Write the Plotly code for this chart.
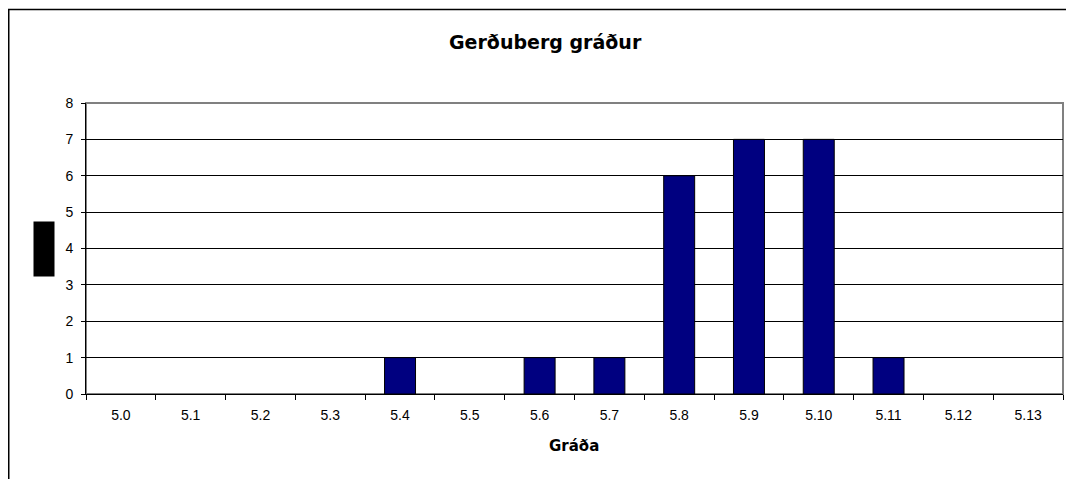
import plotly.graph_objects as go

categories = ["5.0", "5.1", "5.2", "5.3", "5.4", "5.5", "5.6", "5.7", "5.8", "5.9", "5.10", "5.11", "5.12", "5.13"]
counts = [0, 0, 0, 0, 1, 0, 1, 1, 6, 7, 7, 1, 0, 0]
y_ticks = [0, 1, 2, 3, 4, 5, 6, 7, 8]

# page places the figure at an 8px body offset; layout is in figure pixels
W, H = 1074, 479
L, R, T, B = 78, 19, 95, 93
pw, ph = W - L - R, H - T - B

def px_x(x):
    return (x - L) / pw

def px_y(y):
    return (H - B - y) / ph

fig = go.Figure(go.Bar(
    x=categories, y=counts,
    marker=dict(color="#000080",
                line=dict(color="#000000", width=[1 if v > 0 else 0 for v in counts])),
))

font = "Liberation Sans, Arial, sans-serif"
bold_font = "DejaVu Sans, Liberation Sans, sans-serif"

fig.update_layout(
    width=W, height=H,
    margin=dict(l=L, r=R, t=T, b=B, autoexpand=False),
    paper_bgcolor="white", plot_bgcolor="white",
    font=dict(family=font, size=14, color="black"),
    bargap=0.556,
    showlegend=False,
    xaxis=dict(
        type="category", showgrid=False, showline=True, linecolor="black", linewidth=1,
        ticks="outside", ticklen=5, tickcolor="black", tickson="boundaries",
        ticklabelstandoff=8,
        tickfont=dict(size=14, family=font),
    ),
    yaxis=dict(
        range=[0, 8], tickvals=y_ticks, showgrid=True, gridcolor="black", gridwidth=1,
        showline=True, linecolor="black", linewidth=1, zeroline=False,
        ticks="outside", ticklen=4, tickcolor="black", tickfont=dict(size=14, family=font),
        ticklabelstandoff=5,
    ),
    shapes=[
        dict(type="rect", xref="paper", yref="paper", x0=0, x1=1, y0=0, y1=1,
             line=dict(color="#808080", width=2), layer="below"),
        dict(type="line", xref="paper", yref="paper", x0=px_x(0.75), x1=px_x(0.75), y0=px_y(1), y1=px_y(600),
             line=dict(color="black", width=1.5)),
        dict(type="line", xref="paper", yref="paper", x0=px_x(0), x1=px_x(1200), y0=px_y(1.5), y1=px_y(1.5),
             line=dict(color="black", width=1.5)),
    ],
    annotations=[
        dict(text="<b>Gerðuberg gráður</b>", xref="paper", yref="paper",
             x=px_x(537), y=px_y(34), xanchor="center", yanchor="middle", showarrow=False,
             font=dict(size=19, family=bold_font, color="black")),
        dict(text="<b>Gráða</b>", xref="paper", yref="paper",
             x=px_x(566), y=px_y(438), xanchor="center", yanchor="middle", showarrow=False,
             font=dict(size=15, family=bold_font, color="black")),
        dict(text="Fjöldi", textangle=-90, xref="paper", yref="paper",
             x=px_x(36), y=px_y(241), xanchor="center", yanchor="middle", showarrow=False,
             width=48, height=14, borderpad=3,
             font=dict(size=11, color="black", family=font), bgcolor="black"),
    ],
)

fig.write_html("out.html")
